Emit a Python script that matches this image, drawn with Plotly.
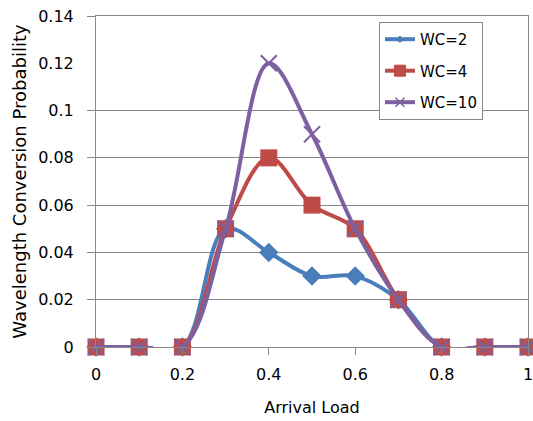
import plotly.graph_objects as go

x_load = [0, 0.1, 0.2, 0.3, 0.4, 0.5, 0.6, 0.7, 0.8, 0.9, 1.0]
wc2 = [0, 0, 0, 0.05, 0.04, 0.03, 0.03, 0.02, 0, 0, 0]
wc4 = [0, 0, 0, 0.05, 0.08, 0.06, 0.05, 0.02, 0, 0, 0]
wc10 = [0, 0, 0, 0.05, 0.12, 0.09, 0.05, 0.02, 0, 0, 0]
series_names = ["WC=2", "WC=4", "WC=10"]
x_ticks = [0, 0.2, 0.4, 0.6, 0.8, 1.0]
x_tick_labels = ["0", "0.2", "0.4", "0.6", "0.8", "1"]
y_ticks = [0, 0.02, 0.04, 0.06, 0.08, 0.1, 0.12, 0.14]
y_tick_labels = ["0", "0.02", "0.04", "0.06", "0.08", "0.1", "0.12", "0.14"]
y_grid = [0, 0.02, 0.04, 0.06, 0.08, 0.1, 0.14]

FONT = "DejaVu Sans"
BLUE, RED, PURPLE = "#4A7EBB", "#BE4B48", "#7D60A0"
GRID = "#888888"

fig = go.Figure()
# data traces
fig.add_trace(go.Scatter(
    x=x_load, y=wc2, name=series_names[0], mode="lines+markers", showlegend=False,
    line=dict(color=BLUE, width=4, shape="spline", smoothing=1),
    marker=dict(symbol="diamond", size=15, color=BLUE),
))
fig.add_trace(go.Scatter(
    x=x_load, y=wc4, name=series_names[1], mode="lines+markers", showlegend=False,
    line=dict(color=RED, width=4, shape="spline", smoothing=1),
    marker=dict(symbol="square", size=17, color=RED),
))
fig.add_trace(go.Scatter(
    x=x_load, y=wc10, name=series_names[2], mode="lines+markers", showlegend=False,
    line=dict(color=PURPLE, width=4, shape="spline", smoothing=1),
    marker=dict(symbol="x-thin", size=16, color=PURPLE,
                line=dict(color=PURPLE, width=2)),
))
fig.update_traces(cliponaxis=False)

# legend-only entries (small legend markers as in the reference)
leg_specs = [
    (series_names[0], BLUE, "diamond", 5, 1),
    (series_names[1], RED, "square", 11, 1),
    (series_names[2], PURPLE, "x-thin", 9, 1.5),
]
for i, (nm, col, sym, sz, lw) in enumerate(leg_specs):
    fig.add_trace(go.Scatter(
        x=[None], y=[None], name=nm, mode="lines+markers", legendgroup=str(i),
        line=dict(color=col, width=4),
        marker=dict(symbol=sym, size=sz, color=col, line=dict(color=col, width=lw)),
    ))

# grid/tick axis (overlay) without the 0.12 line, as in the reference
fig.add_trace(go.Scatter(x=[None], y=[None], yaxis="y2", showlegend=False,
                         hoverinfo="skip"))

fig.update_layout(
    width=533, height=421,
    margin=dict(l=96, r=5, t=16, b=74),
    paper_bgcolor="white", plot_bgcolor="white",
    font=dict(family=FONT, size=15, color="#000000"),
    showlegend=True,
    legend=dict(
        x=0.655, y=0.982, xanchor="left", yanchor="top",
        bgcolor="white", bordercolor=GRID, borderwidth=1,
        font=dict(family=FONT, size=15),
        tracegroupgap=9, traceorder="grouped",
    ),
    xaxis=dict(
        range=[0, 1], tickvals=x_ticks, ticktext=x_tick_labels,
        showgrid=False, zeroline=False, showline=True, linecolor=GRID,
        linewidth=1, mirror=True, ticks="outside", ticklen=7, tickcolor=GRID,
        ticklabelstandoff=6, ticklabeloverflow="allow", automargin=False,
        title=dict(text="Arrival Load", standoff=18, font=dict(size=16)),
        tickfont=dict(size=16),
    ),
    yaxis=dict(
        range=[0, 0.14], tickvals=y_ticks, ticktext=y_tick_labels,
        showgrid=False, zeroline=False, showline=True, linecolor=GRID,
        linewidth=1, mirror=True, ticks="", ticklabelstandoff=18,
        automargin=False,
        title=dict(text="Wavelength Conversion Probability", standoff=6,
                   font=dict(size=18)),
        tickfont=dict(size=16),
    ),
    yaxis2=dict(
        range=[0, 0.14], overlaying="y", side="left", tickvals=y_grid,
        showticklabels=False, showgrid=True, gridcolor=GRID, gridwidth=1,
        zeroline=False, showline=False, ticks="outside", ticklen=8,
        tickcolor=GRID, automargin=False,
    ),
)

fig.write_html("out.html")
